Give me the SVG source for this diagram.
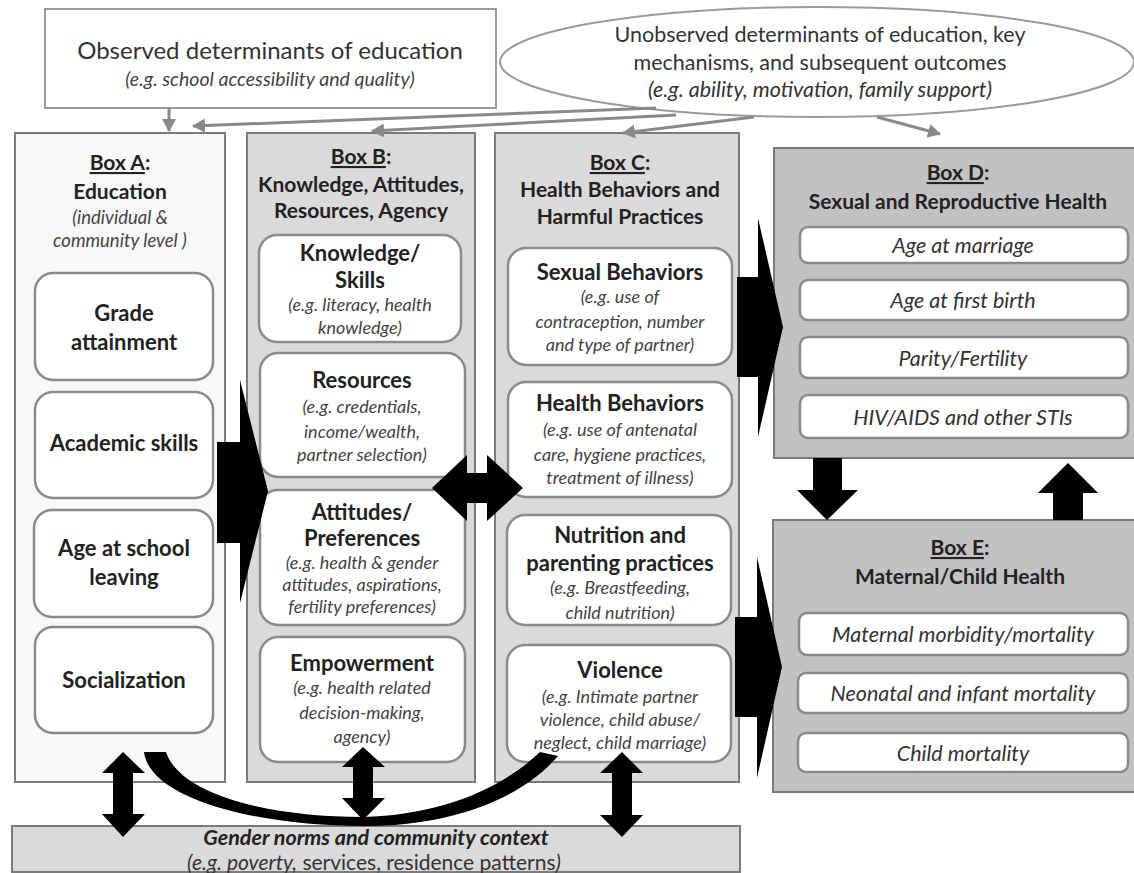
<svg xmlns="http://www.w3.org/2000/svg" width="1134" height="873" viewBox="0 0 1134 873">
<style>
text{font-family:Lato,"Open Sans","Liberation Sans",sans-serif;text-anchor:middle;fill:#222}
.t{font-weight:bold;font-size:21px}
.b{font-weight:bold;font-size:22px}
.i{font-style:italic;font-size:18px;fill:#444}
.di{font-style:italic;font-size:21.5px;fill:#333}
.u{text-decoration:underline}
.outer{stroke:#7a7a7a;stroke-width:2}
.inner{fill:#fff;stroke:#8a8a8a;stroke-width:2.5}
.thin{stroke:#8a8a8a;stroke-width:3;fill:none;marker-end:url(#ah)}
.blk{fill:#000}
</style>
<defs>
<marker id="ah" markerUnits="userSpaceOnUse" markerWidth="14" markerHeight="14" refX="12" refY="7" orient="auto">
<path d="M0,0 L13,7 L0,14 z" fill="#8a8a8a"/>
</marker>
</defs>

<g id="observed">
<rect x="45" y="9" width="451" height="99" fill="#fff" stroke="#9a9a9a" stroke-width="2"/>
<text x="270" y="59" style="font-size:24px;fill:#333">Observed determinants of education</text>
<text x="270" y="86" style="font-size:19.5px;font-style:italic;fill:#444">(e.g. school accessibility and quality)</text>
</g>

<g id="unobserved">
<ellipse cx="817" cy="62" rx="317" ry="55" fill="#fff" stroke="#9a9a9a" stroke-width="2"/>
<text x="820" y="42" style="font-size:21.5px;fill:#333">Unobserved determinants of education, key</text>
<text x="820" y="70" style="font-size:21.5px;fill:#333">mechanisms, and subsequent outcomes</text>
<text x="820" y="97" style="font-size:21.5px;font-style:italic;fill:#333">(e.g. ability, motivation, family support)</text>
</g>

<g id="boxA">
<rect class="outer" x="15" y="133" width="210" height="649" fill="#f8f8f8"/>
<text class="t" x="120" y="170"><tspan class="u">Box A</tspan>:</text>
<text class="t" x="120" y="199">Education</text>
<text class="i" x="120" y="224" style="font-size:18.5px">(individual &amp;</text>
<text class="i" x="120" y="247" style="font-size:18.5px">community level )</text>
<rect class="inner" x="35" y="273" width="178" height="107" rx="18"/>
<text class="b" x="124" y="321">Grade</text>
<text class="b" x="124" y="350">attainment</text>
<rect class="inner" x="35" y="392" width="178" height="106" rx="18"/>
<text class="b" x="124" y="451">Academic skills</text>
<rect class="inner" x="34" y="510" width="179" height="107" rx="18"/>
<text class="b" x="124" y="556">Age at school</text>
<text class="b" x="124" y="585">leaving</text>
<rect class="inner" x="35" y="627" width="178" height="106" rx="18"/>
<text class="b" x="124" y="688">Socialization</text>
</g>

<g id="boxB">
<rect class="outer" x="247" y="133" width="228" height="649" fill="#dadada"/>
<text class="t" x="361" y="164"><tspan class="u">Box B</tspan>:</text>
<text class="t" x="361" y="192">Knowledge, Attitudes,</text>
<text class="t" x="361" y="218">Resources, Agency</text>
<rect class="inner" x="259" y="235" width="202" height="107" rx="18"/>
<text class="b" x="360" y="261">Knowledge/</text>
<text class="b" x="360" y="288">Skills</text>
<text class="i" x="360" y="311">(e.g. literacy, health</text>
<text class="i" x="360" y="334">knowledge)</text>
<rect class="inner" x="260" y="353" width="205" height="124" rx="18"/>
<text class="b" x="362" y="388">Resources</text>
<text class="i" x="362" y="413">(e.g. credentials,</text>
<text class="i" x="362" y="438">income/wealth,</text>
<text class="i" x="362" y="461">partner selection)</text>
<rect class="inner" x="260" y="490" width="205" height="135" rx="18"/>
<text class="b" x="362" y="520">Attitudes/</text>
<text class="b" x="362" y="546">Preferences</text>
<text class="i" x="362" y="569">(e.g. health &amp; gender</text>
<text class="i" x="362" y="591">attitudes, aspirations,</text>
<text class="i" x="362" y="613">fertility preferences)</text>
<rect class="inner" x="260" y="637" width="205" height="125" rx="18"/>
<text class="b" x="362" y="671">Empowerment</text>
<text class="i" x="362" y="694">(e.g. health related</text>
<text class="i" x="362" y="719">decision-making,</text>
<text class="i" x="362" y="743">agency)</text>
</g>

<g id="boxC">
<rect class="outer" x="495" y="133" width="244" height="649" fill="#dadada"/>
<text class="t" x="620" y="170"><tspan class="u">Box C</tspan>:</text>
<text class="t" x="620" y="197">Health Behaviors and</text>
<text class="t" x="620" y="224">Harmful Practices</text>
<rect class="inner" x="508" y="248" width="224" height="117" rx="18"/>
<text class="b" x="620" y="280">Sexual Behaviors</text>
<text class="i" x="620" y="303">(e.g. use of</text>
<text class="i" x="620" y="328">contraception, number</text>
<text class="i" x="620" y="351">and type of partner)</text>
<rect class="inner" x="508" y="382" width="224" height="115" rx="18"/>
<text class="b" x="620" y="411">Health Behaviors</text>
<text class="i" x="620" y="436">(e.g. use of antenatal</text>
<text class="i" x="620" y="461">care, hygiene practices,</text>
<text class="i" x="620" y="484">treatment of illness)</text>
<rect class="inner" x="507" y="515" width="224" height="110" rx="18"/>
<text class="b" x="620" y="543">Nutrition and</text>
<text class="b" x="620" y="571">parenting practices</text>
<text class="i" x="620" y="594">(e.g. Breastfeeding,</text>
<text class="i" x="620" y="619">child nutrition)</text>
<rect class="inner" x="507" y="645" width="224" height="117" rx="18"/>
<text class="b" x="620" y="678">Violence</text>
<text class="i" x="620" y="703">(e.g. Intimate partner</text>
<text class="i" x="620" y="726">violence, child abuse/</text>
<text class="i" x="620" y="749">neglect, child marriage)</text>
</g>

<g id="boxD">
<rect class="outer" x="774" y="148" width="362" height="310" fill="#c2c2c2"/>
<text class="t" x="958" y="180"><tspan class="u">Box D</tspan>:</text>
<text class="t" x="958" y="209">Sexual and Reproductive Health</text>
<rect class="inner" x="800" y="227" width="328" height="36" rx="8"/>
<text class="di" x="963" y="253">Age at marriage</text>
<rect class="inner" x="800" y="280" width="328" height="40" rx="8"/>
<text class="di" x="963" y="308">Age at first birth</text>
<rect class="inner" x="800" y="337" width="328" height="41" rx="8"/>
<text class="di" x="963" y="366">Parity/Fertility</text>
<rect class="inner" x="800" y="395" width="328" height="43" rx="8"/>
<text class="di" x="963" y="425">HIV/AIDS and other STIs</text>
</g>

<g id="boxE">
<rect class="outer" x="773" y="520" width="363" height="272" fill="#c2c2c2"/>
<text class="t" x="960" y="555"><tspan class="u">Box E</tspan>:</text>
<text class="t" x="960" y="584">Maternal/Child Health</text>
<rect class="inner" x="799" y="613" width="329" height="42" rx="8"/>
<text class="di" x="963" y="642">Maternal morbidity/mortality</text>
<rect class="inner" x="798" y="673" width="330" height="40" rx="8"/>
<text class="di" x="963" y="701">Neonatal and infant mortality</text>
<rect class="inner" x="798" y="733" width="330" height="39" rx="8"/>
<text class="di" x="963" y="761">Child mortality</text>
</g>

<g id="context">
<rect x="12" y="826" width="728" height="46" fill="#dadada" stroke="#7a7a7a" stroke-width="2"/>
<text x="376" y="845" style="font-size:21.5px;font-weight:bold;font-style:italic;fill:#222">Gender norms and community context</text>
<text x="374" y="870" style="font-size:21px;fill:#333"><tspan style="font-style:italic">(e.g. poverty,</tspan> services, residence patterns<tspan style="font-style:italic">)</tspan></text>
</g>

<g id="connectors">
<path class="thin" d="M169,108 L169,131"/>
<path class="thin" d="M656,108 L193,126"/>
<path class="thin" d="M676,115 L372,131"/>
<path class="thin" d="M754,117 L623,133"/>
<path class="thin" d="M877,117 L940,134"/>
<polygon class="blk" points="217,442 240,442 240,380 268,491 240,603 240,543 217,543"/>
<polygon class="blk" points="737,277 758,277 758,218 783,327 758,437 758,377 737,377"/>
<polygon class="blk" points="735,617 757,617 757,557 782,667 757,778 757,717 735,717"/>
<polygon class="blk" points="432,488 467,455 467,473 487,473 487,455 523,488 487,521 487,503 467,503 467,521"/>
<polygon class="blk" points="813,458 842,458 842,490 858,490 827,520 797,490 813,490"/>
<polygon class="blk" points="1053,520 1083,520 1083,493 1098,493 1068,463 1038,493 1053,493"/>
<polygon class="blk" points="123,752 145,773 133,773 133,814 145,814 123,837 102,814 113,814 113,773 102,773"/>
<polygon class="blk" points="363,747 385,767 373,767 373,798 385,798 363,820 342,798 353,798 353,767 342,767"/>
<polygon class="blk" points="622,752 643,773 632,773 632,815 643,815 622,837 600,815 612,815 612,773 600,773"/>
<path class="blk" d="M144,752 C150,800 260,826 363,826 C450,826 520,800 558,756 L540,752 C500,790 440,815 363,817 C270,817 180,795 166,752 Z"/>
</g>
</svg>
